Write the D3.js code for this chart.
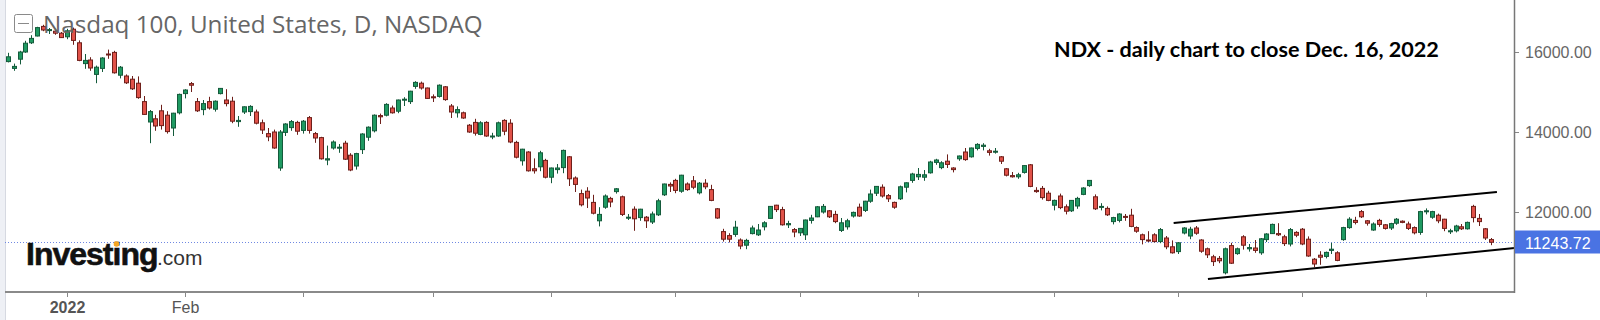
<!DOCTYPE html>
<html>
<head>
<meta charset="utf-8">
<script src="https://cdn.jsdelivr.net/npm/d3@7"></script>
<style>
  html, body { margin: 0; padding: 0; background: #fff; }
  svg { display: block; }
</style>
</head>
<body>
<div id="chart"></div>
<script>
// trading days, 17 Dec 2021 .. 16 Dec 2022
const dates = [
  '2021-12-17', '2021-12-20', '2021-12-21', '2021-12-22', '2021-12-23', '2021-12-27', '2021-12-28', '2021-12-29', '2021-12-30', '2021-12-31',
  '2022-01-03', '2022-01-04', '2022-01-05', '2022-01-06', '2022-01-07', '2022-01-10', '2022-01-11', '2022-01-12', '2022-01-13', '2022-01-14',
  '2022-01-18', '2022-01-19', '2022-01-20', '2022-01-21', '2022-01-24', '2022-01-25', '2022-01-26', '2022-01-27', '2022-01-28', '2022-01-31',
  '2022-02-01', '2022-02-02', '2022-02-03', '2022-02-04', '2022-02-07', '2022-02-08', '2022-02-09', '2022-02-10', '2022-02-11', '2022-02-14',
  '2022-02-15', '2022-02-16', '2022-02-17', '2022-02-18', '2022-02-22', '2022-02-23', '2022-02-24', '2022-02-25', '2022-02-28',
  '2022-03-01', '2022-03-02', '2022-03-03', '2022-03-04', '2022-03-07', '2022-03-08', '2022-03-09', '2022-03-10', '2022-03-11', '2022-03-14',
  '2022-03-15', '2022-03-16', '2022-03-17', '2022-03-18', '2022-03-21', '2022-03-22', '2022-03-23', '2022-03-24', '2022-03-25', '2022-03-28',
  '2022-03-29', '2022-03-30', '2022-03-31',
  '2022-04-01', '2022-04-04', '2022-04-05', '2022-04-06', '2022-04-07', '2022-04-08', '2022-04-11', '2022-04-12', '2022-04-13', '2022-04-14',
  '2022-04-18', '2022-04-19', '2022-04-20', '2022-04-21', '2022-04-22', '2022-04-25', '2022-04-26', '2022-04-27', '2022-04-28', '2022-04-29',
  '2022-05-02', '2022-05-03', '2022-05-04', '2022-05-05', '2022-05-06', '2022-05-09', '2022-05-10', '2022-05-11', '2022-05-12', '2022-05-13',
  '2022-05-16', '2022-05-17', '2022-05-18', '2022-05-19', '2022-05-20', '2022-05-23', '2022-05-24', '2022-05-25', '2022-05-26', '2022-05-27',
  '2022-05-31',
  '2022-06-01', '2022-06-02', '2022-06-03', '2022-06-06', '2022-06-07', '2022-06-08', '2022-06-09', '2022-06-10', '2022-06-13', '2022-06-14',
  '2022-06-15', '2022-06-16', '2022-06-17', '2022-06-21', '2022-06-22', '2022-06-23', '2022-06-24', '2022-06-27', '2022-06-28', '2022-06-29',
  '2022-06-30',
  '2022-07-01', '2022-07-05', '2022-07-06', '2022-07-07', '2022-07-08', '2022-07-11', '2022-07-12', '2022-07-13', '2022-07-14', '2022-07-15',
  '2022-07-18', '2022-07-19', '2022-07-20', '2022-07-21', '2022-07-22', '2022-07-25', '2022-07-26', '2022-07-27', '2022-07-28', '2022-07-29',
  '2022-08-01', '2022-08-02', '2022-08-03', '2022-08-04', '2022-08-05', '2022-08-08', '2022-08-09', '2022-08-10', '2022-08-11', '2022-08-12',
  '2022-08-15', '2022-08-16', '2022-08-17', '2022-08-18', '2022-08-19', '2022-08-22', '2022-08-23', '2022-08-24', '2022-08-25', '2022-08-26',
  '2022-08-29', '2022-08-30', '2022-08-31',
  '2022-09-01', '2022-09-02', '2022-09-06', '2022-09-07', '2022-09-08', '2022-09-09', '2022-09-12', '2022-09-13', '2022-09-14', '2022-09-15',
  '2022-09-16', '2022-09-19', '2022-09-20', '2022-09-21', '2022-09-22', '2022-09-23', '2022-09-26', '2022-09-27', '2022-09-28', '2022-09-29',
  '2022-09-30',
  '2022-10-03', '2022-10-04', '2022-10-05', '2022-10-06', '2022-10-07', '2022-10-10', '2022-10-11', '2022-10-12', '2022-10-13', '2022-10-14',
  '2022-10-17', '2022-10-18', '2022-10-19', '2022-10-20', '2022-10-21', '2022-10-24', '2022-10-25', '2022-10-26', '2022-10-27', '2022-10-28',
  '2022-10-31',
  '2022-11-01', '2022-11-02', '2022-11-03', '2022-11-04', '2022-11-07', '2022-11-08', '2022-11-09', '2022-11-10', '2022-11-11', '2022-11-14',
  '2022-11-15', '2022-11-16', '2022-11-17', '2022-11-18', '2022-11-21', '2022-11-22', '2022-11-23', '2022-11-25', '2022-11-28', '2022-11-29',
  '2022-11-30',
  '2022-12-01', '2022-12-02', '2022-12-05', '2022-12-06', '2022-12-07', '2022-12-08', '2022-12-09', '2022-12-12', '2022-12-13', '2022-12-14',
  '2022-12-15', '2022-12-16'
]

const opens = [
  15760, 15590, 15820, 16000, 16230, 16400, 16640, 16540, 16520, 16470,
  16380, 16570, 16230, 15710, 15800, 15440, 15590, 15950, 15990, 15420,
  15400, 15320, 15220, 14760, 14250, 14330, 14530, 14420, 14100, 14480,
  14960, 15210, 14760, 14560, 14760, 14570, 14960, 14800, 14770, 14260,
  14500, 14510, 14500, 14230, 13960, 14000, 13100, 13990, 14110,
  14240, 14040, 14360, 13960, 13860, 13300, 13600, 13600, 13720, 13420,
  13150, 13560, 13870, 14030, 14410, 14420, 14600, 14520, 14810, 14760,
  15140, 15220, 15100,
  14880, 14890, 15130, 14650, 14480, 14480, 14170, 14240, 13940, 14240,
  13880, 13900, 14290, 14220, 13740, 13280, 13500, 13080, 13130, 13290,
  12870, 13060, 13110, 13380, 12850, 12460, 12520, 12240, 11780, 12120,
  12340, 12510, 12380, 11850, 12070, 11860, 11870, 11750, 11930, 12430,
  12690,
  12790, 12520, 12700, 12780, 12480, 12720, 12560, 12080, 11510, 11410,
  11440, 11300, 11170, 11460, 11430, 11630, 11840, 12170, 12060, 11680,
  11560,
  11480, 11430, 11790, 11880, 12000, 12030, 11940, 11540, 11630, 11900,
  12120, 12040, 12270, 12470, 12620, 12410, 12240, 12330, 12620, 12790,
  12880, 12870, 12980, 13240, 13110, 13270, 13100, 13330, 13500, 13380,
  13590, 13640, 13530, 13500, 13380, 13080, 12910, 12880, 12990, 13180,
  12540, 12590, 12470,
  12170, 12400, 12130, 12030, 12150, 12440, 12660, 12380, 12120, 12090,
  11760, 11790, 11890, 11920, 11610, 11430, 11300, 11430, 11260, 11350,
  11130,
  11010, 11475, 11400, 11600, 11300, 11080, 10880, 10840, 10480, 11160,
  10960, 11380, 11080, 11100, 10980, 11310, 11460, 11460, 11380, 11200,
  11490,
  11570, 11320, 10820, 10920, 10890, 11040, 10980, 11310, 11610, 11790,
  12010, 11780, 11550, 11790, 11680, 11600, 11720, 11770, 11700, 11610,
  11490,
  12010, 11870, 11920, 11820, 11510, 11530, 11630, 11580, 12140, 11840,
  11580, 11310
]

const highs = [
  15980, 15710, 16030, 16280, 16420, 16630, 16680, 16600, 16580, 16500,
  16580, 16610, 16290, 15950, 15870, 15660, 15870, 16060, 16030, 15650,
  15440, 15400, 15390, 14900, 14550, 14430, 14680, 14520, 14480, 14960,
  15070, 15250, 14850, 14800, 14880, 14790, 15100, 15070, 14880, 14400,
  14640, 14670, 14560, 14310, 14100, 14060, 14050, 14220, 14300,
  14280, 14300, 14400, 14000, 13880, 13660, 13790, 13700, 13780, 13470,
  13480, 13970, 14140, 14440, 14460, 14720, 14660, 14810, 14870, 15030,
  15270, 15260, 15110,
  14940, 15190, 15150, 14700, 14640, 14510, 14200, 14330, 14270, 14270,
  13980, 14260, 14320, 14320, 13780, 13580, 13520, 13340, 13530, 13330,
  13110, 13200, 13560, 13400, 12890, 12560, 12620, 12430, 12120, 12440,
  12380, 12600, 12410, 11950, 12140, 12080, 11900, 12010, 12330, 12710,
  12740,
  12830, 12930, 12740, 12900, 12750, 12820, 12680, 12100, 11580, 11470,
  11780, 11340, 11330, 11660, 11700, 11770, 12150, 12180, 12130, 11780,
  11600,
  11600, 11810, 11930, 12150, 12200, 12050, 12030, 11850, 11830, 12010,
  12210, 12280, 12560, 12650, 12690, 12450, 12260, 12660, 12740, 12980,
  13100, 13050, 13280, 13330, 13270, 13440, 13120, 13410, 13600, 13610,
  13720, 13720, 13580, 13600, 13400, 13100, 13000, 12980, 13170, 13200,
  12620, 12650, 12530,
  12310, 12460, 12190, 12300, 12380, 12620, 12800, 12440, 12220, 12140,
  11880, 11970, 11950, 12080, 11640, 11460, 11520, 11470, 11600, 11400,
  11290,
  11250, 11620, 11630, 11650, 11320, 11110, 10930, 10900, 11110, 11230,
  11110, 11420, 11200, 11300, 11350, 11470, 11710, 11720, 11430, 11600,
  11520,
  11600, 11390, 10850, 11020, 11010, 11230, 11020, 11630, 11870, 11880,
  12050, 11800, 11740, 11830, 11700, 11730, 11850, 11790, 11760, 11640,
  12030,
  12090, 12030, 11960, 11830, 11580, 11680, 11700, 11760, 12180, 11950,
  11600, 11350
]

const lows = [
  15740, 15530, 15690, 15980, 16200, 16390, 16520, 16450, 16430, 16350,
  16320, 16180, 15770, 15580, 15530, 15220, 15500, 15830, 15460, 15340,
  15200, 15050, 14830, 14430, 13720, 14030, 14060, 13960, 13900, 14440,
  14840, 15000, 14500, 14420, 14560, 14510, 14940, 14640, 14220, 14130,
  14450, 14400, 14190, 13950, 13770, 13580, 13030, 13900, 14030,
  13930, 13960, 13960, 13730, 13310, 13170, 13560, 13480, 13300, 13020,
  13060, 13450, 13780, 13990, 14200, 14390, 14460, 14470, 14650, 14700,
  15080, 15060, 14830,
  14750, 14860, 14780, 14350, 14360, 14330, 13980, 13910, 13920, 13880,
  13820, 13880, 13920, 13720, 13340, 13160, 13010, 12960, 13020, 12840,
  12720, 12960, 12970, 12650, 12500, 12140, 12100, 11940, 11640, 12080,
  12120, 12460, 11900, 11800, 11530, 11780, 11600, 11700, 11900, 12400,
  12500,
  12470, 12480, 12530, 12570, 12440, 12570, 12270, 11830, 11260, 11240,
  11380, 11070, 11070, 11440, 11400, 11540, 11830, 12000, 11660, 11600,
  11370,
  11400, 11300, 11710, 11870, 11960, 11850, 11720, 11500, 11560, 11860,
  11880, 12000, 12230, 12400, 12360, 12250, 12080, 12300, 12490, 12730,
  12800, 12780, 12960, 13180, 13070, 13100, 12990, 13280, 13280, 13360,
  13540, 13540, 13410, 13460, 13200, 12890, 12860, 12830, 12960, 12620,
  12480, 12310, 12270,
  12040, 12070, 11940, 12000, 12080, 12420, 12630, 12050, 12040, 11900,
  11690, 11740, 11780, 11620, 11480, 11190, 11250, 11240, 11220, 11070,
  10960,
  10950, 11440, 11320, 11430, 10980, 10850, 10650, 10720, 10440, 10700,
  10930, 11060, 11010, 10980, 10930, 11250, 11450, 11400, 11150, 11140,
  11370,
  11170, 10880, 10620, 10680, 10840, 10950, 10770, 11280, 11580, 11690,
  11850, 11660, 11530, 11630, 11560, 11550, 11680, 11720, 11550, 11440,
  11430,
  11940, 11830, 11720, 11520, 11450, 11490, 11550, 11560, 11740, 11650,
  11300, 11170
]

const closes = [
  15880, 15640, 16000, 16220, 16340, 16610, 16550, 16560, 16470, 16360,
  16530, 16290, 15790, 15790, 15600, 15620, 15850, 15930, 15480, 15620,
  15230, 15080, 14860, 14440, 14510, 14150, 14160, 14010, 14470, 14940,
  15050, 15170, 14530, 14710, 14600, 14770, 15090, 14710, 14270, 14290,
  14630, 14640, 14220, 14050, 13880, 13600, 14000, 14200, 14260,
  14020, 14270, 14040, 13850, 13330, 13330, 13750, 13620, 13320, 13050,
  13460, 13950, 14120, 14420, 14380, 14690, 14480, 14800, 14820, 15020,
  15240, 15100, 14840,
  14870, 15170, 14810, 14500, 14560, 14350, 14000, 13970, 14230, 13900,
  13900, 14230, 14020, 13750, 13370, 13570, 13030, 13030, 13480, 12870,
  13100, 13100, 13540, 12830, 12690, 12180, 12350, 11970, 11940, 12400,
  12250, 12580, 11940, 11870, 11830, 12070, 11780, 11950, 12280, 12700,
  12650,
  12540, 12920, 12560, 12620, 12720, 12630, 12290, 11850, 11320, 11320,
  11620, 11150, 11290, 11600, 11550, 11730, 12140, 12060, 11680, 11710,
  11500,
  11590, 11800, 11850, 12130, 12140, 11880, 11760, 11730, 11780, 11990,
  11900, 12270, 12450, 12640, 12400, 12330, 12120, 12630, 12730, 12950,
  12940, 12930, 13250, 13300, 13230, 13190, 13060, 13400, 13310, 13600,
  13690, 13670, 13490, 13520, 13270, 12920, 12880, 12930, 13160, 12640,
  12510, 12360, 12290,
  12290, 12110, 12020, 12290, 12340, 12600, 12790, 12080, 12140, 11930,
  11860, 11950, 11870, 11640, 11520, 11310, 11280, 11260, 11560, 11130,
  10980,
  11230, 11600, 11570, 11470, 11020, 10930, 10760, 10780, 11080, 10720,
  11080, 11170, 11110, 11040, 11330, 11450, 11690, 11430, 11210, 11560,
  11420,
  11200, 10900, 10700, 10870, 10990, 11070, 10790, 11610, 11820, 11740,
  11880, 11720, 11700, 11690, 11590, 11710, 11820, 11740, 11590, 11480,
  12010,
  12030, 12010, 11780, 11590, 11530, 11650, 11580, 11740, 11860, 11760,
  11350, 11243.72
]

// axis ticks
const tickDates = ['2022-01-03', '2022-02-01', '2022-03-02', '2022-04-01', '2022-05-02', '2022-06-01',
  '2022-07-01', '2022-08-01', '2022-09-01', '2022-10-03', '2022-11-01', '2022-12-01']
const tickLabels = ['2022', 'Feb', '', '', '', '', '', '', '', '', '', '']
const priceTicks = [12000, 14000, 16000]

// hand-drawn channel: [start index, start value, end index, end value]
const channelUpper = [197.3, 11725, 252.0, 12500]
const channelLower = [203.1, 10325, 255.0, 11100]

const width = 1600
const height = 320
const plotLeft = 5
const plotRight = 1514
const plotBottom = 292

const svg = d3.select('#chart')
  .append('svg')
  .attr('width', width)
  .attr('height', height)

const xPositionScale = d3.scaleLinear()
  .domain([0, dates.length - 1])
  .range([7.7, 1491])

const yPositionScale = d3.scaleLinear()
  .domain([10000, 17300])
  .range([plotBottom, 0])

// left frame strip
svg.append('rect')
  .attr('x', 0).attr('y', 0)
  .attr('width', plotLeft).attr('height', height)
  .attr('fill', '#eef0f5')
svg.append('line')
  .attr('x1', plotLeft + 0.5).attr('x2', plotLeft + 0.5)
  .attr('y1', 0).attr('y2', height)
  .attr('stroke', '#d6d9e1')

const last = closes[closes.length - 1]
const lastY = Math.round(yPositionScale(last)) + 0.5

// current price dotted line
svg.append('line')
  .attr('x1', plotLeft).attr('x2', plotRight)
  .attr('y1', lastY).attr('y2', lastY)
  .attr('stroke', '#6f88e2')
  .attr('stroke-width', 1)
  .attr('stroke-dasharray', '1,2')

// logo
const logo = svg.append('g').attr('class', 'logo')
const logoText = logo.append('text')
  .attr('x', 26).attr('y', 265)
  .attr('font-family', 'Liberation Sans, Arial, sans-serif')
  .attr('font-weight', 'bold')
  .attr('font-size', 30)
  .attr('letter-spacing', -1)
  .attr('stroke', '#111')
  .attr('stroke-width', 0.6)
  .attr('fill', '#111')
  .text('Investing')
fitText(logoText, 131)
logo.append('text')
  .attr('x', 157).attr('y', 265)
  .attr('font-family', 'Liberation Sans, Arial, sans-serif')
  .attr('font-size', 21)
  .attr('fill', '#333')
  .text('.com')
const iBox = logoText.node().getExtentOfChar(6)
logo.append('circle')
  .attr('cx', iBox.x + iBox.width / 2)
  .attr('cy', 244)
  .attr('r', 2.8)
  .attr('fill', '#f5a623')

// candles
const idx = d3.range(dates.length)
const candles = svg.append('g').attr('class', 'candles')
  .selectAll('g')
  .data(idx)
  .enter().append('g')

const upFill = '#1f9a62'
const upStroke = '#145a3b'
const downFill = '#e05249'
const downStroke = '#6e1f1a'

candles.append('line')
  .attr('x1', i => Math.round(xPositionScale(i)) + 0.5)
  .attr('x2', i => Math.round(xPositionScale(i)) + 0.5)
  .attr('y1', i => yPositionScale(highs[i]))
  .attr('y2', i => yPositionScale(lows[i]))
  .attr('stroke', i => closes[i] >= opens[i] ? upStroke : downStroke)
  .attr('stroke-width', 1)

candles.append('rect')
  .attr('x', i => Math.round(xPositionScale(i)) - 1.5)
  .attr('width', 4)
  .attr('y', i => yPositionScale(Math.max(opens[i], closes[i])))
  .attr('height', i => Math.max(1, Math.abs(yPositionScale(opens[i]) - yPositionScale(closes[i]))))
  .attr('fill', i => closes[i] >= opens[i] ? upFill : downFill)
  .attr('stroke', i => closes[i] >= opens[i] ? upStroke : downStroke)
  .attr('stroke-width', 1)

// channel lines
const channel = svg.append('g').attr('class', 'channel')
;[channelUpper, channelLower].forEach(c => {
  channel.append('line')
    .attr('x1', xPositionScale(c[0])).attr('y1', yPositionScale(c[1]))
    .attr('x2', xPositionScale(c[2])).attr('y2', yPositionScale(c[3]))
    .attr('stroke', '#000')
    .attr('stroke-width', 2)
})

// x axis
const xAxis = d3.axisBottom(xPositionScale)
  .tickValues(tickDates.map(d => dates.indexOf(d)))
  .tickFormat((d, i) => tickLabels[i])
  .tickSize(5)
  .tickPadding(5)

const xg = svg.append('g')
  .attr('class', 'axis x-axis')
  .attr('transform', 'translate(0,' + plotBottom + ')')
  .call(xAxis)
xg.select('.domain').remove()
xg.selectAll('.tick line').attr('stroke', '#888')
xg.selectAll('.tick').attr('transform', d => 'translate(' + (Math.round(xPositionScale(d)) + 0.5) + ',0)')
xg.selectAll('.tick text')
  .attr('font-family', 'Liberation Sans, Arial, sans-serif')
  .attr('font-size', 16)
  .attr('fill', '#555')
  .attr('font-weight', (d, i) => i === 0 ? 'bold' : 'normal')

svg.append('line')
  .attr('x1', plotLeft).attr('x2', plotRight)
  .attr('y1', plotBottom).attr('y2', plotBottom)
  .attr('stroke', '#8a8a8a')
  .attr('stroke-width', 2)

// y axis (right)
const yAxis = d3.axisRight(yPositionScale)
  .tickValues(priceTicks)
  .tickFormat(d3.format('.2f'))
  .tickSize(5)
  .tickPadding(6)

const yg = svg.append('g')
  .attr('class', 'axis y-axis')
  .attr('transform', 'translate(' + plotRight + ',0)')
  .call(yAxis)
yg.select('.domain').remove()
yg.selectAll('.tick line').attr('stroke', '#888')
yg.selectAll('.tick text')
  .attr('font-family', 'Liberation Sans, Arial, sans-serif')
  .attr('font-size', 16)
  .attr('fill', '#666')

svg.append('line')
  .attr('x1', plotRight + 0.5).attr('x2', plotRight + 0.5)
  .attr('y1', 0).attr('y2', plotBottom + 1)
  .attr('stroke', '#777')
  .attr('stroke-width', 1.5)

// price tag
svg.append('rect')
  .attr('x', plotRight + 1).attr('y', lastY - 12)
  .attr('width', width - plotRight).attr('height', 23)
  .attr('fill', '#4a73e3')
svg.append('text')
  .attr('x', plotRight + 11).attr('y', lastY + 6)
  .attr('font-family', 'Liberation Sans, Arial, sans-serif')
  .attr('font-size', 16)
  .attr('fill', '#fff')
  .text(d3.format('.2f')(last))

// title
svg.append('rect')
  .attr('x', 14.5).attr('y', 14.5)
  .attr('width', 18).attr('height', 18)
  .attr('rx', 2)
  .attr('fill', 'rgba(255,255,255,0.5)')
  .attr('stroke', '#8a8a8a')
svg.append('line')
  .attr('x1', 18).attr('x2', 29)
  .attr('y1', 23.5).attr('y2', 23.5)
  .attr('stroke', '#8a8a8a')
const title = svg.append('text')
  .attr('x', 43).attr('y', 33)
  .attr('font-family', 'Open Sans, sans-serif')
  .attr('font-size', 24)
  .attr('fill', '#666')
  .text('Nasdaq 100, United States, D, NASDAQ')
fitText(title, 440)

const note = svg.append('text')
  .attr('x', 1054).attr('y', 57)
  .attr('font-family', 'Lato, sans-serif')
  .attr('font-weight', 'bold')
  .attr('font-size', 20)
  .attr('fill', '#000')
  .text('NDX - daily chart to close Dec. 16, 2022')
fitText(note, 385)

function fitText (sel, target) {
  const size = +sel.attr('font-size')
  const len = sel.node().getComputedTextLength()
  sel.attr('font-size', size * target / len)
}
</script>
</body>
</html>
